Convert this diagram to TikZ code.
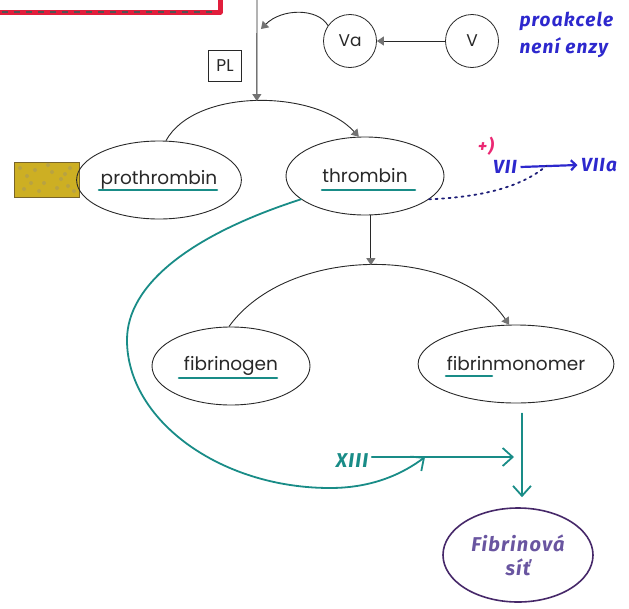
\documentclass[tikz,border=0pt]{standalone}
\usepackage{fontspec}
\setmainfont{Poppins}
\newfontfamily\handfont[LetterSpace=6]{Fira Sans}
\usetikzlibrary{arrows.meta,shapes.geometric,calc}
\definecolor{inkgrey}{RGB}{40,40,40}
\definecolor{tipgrey}{RGB}{115,115,115}
\definecolor{markteal}{RGB}{25,140,135}
\definecolor{penblue}{RGB}{45,40,205}
\definecolor{dotnavy}{RGB}{30,30,120}
\definecolor{penpink}{RGB}{235,40,115}
\definecolor{penpurple}{RGB}{70,40,105}
\definecolor{inkpurple}{RGB}{105,85,160}
\definecolor{ochre}{RGB}{205,175,35}
\definecolor{ochredark}{RGB}{120,100,40}
\definecolor{redmark}{RGB}{225,30,60}
\begin{document}
\begin{tikzpicture}[x=1pt,y=-1pt,
  state/.style={ellipse, draw=inkgrey, line width=0.9pt, minimum width=158pt,
    minimum height=78pt, inner sep=0pt, font=\fontsize{18.5}{20}\selectfont, text=inkgrey},
  factor/.style={circle, draw=inkgrey, line width=0.8pt, minimum size=53pt,
    inner sep=0pt, font=\fontsize{17}{19}\selectfont, text=inkgrey},
  link/.style={draw=inkgrey, line width=0.9pt},
  greytip/.style={-{Triangle[length=7pt,width=9pt,color=tipgrey]}},
  tealpen/.style={draw=markteal, line width=1.8pt, line cap=round},
  tealtip/.style={-{Straight Barb[length=10pt,width=18pt,line width=1.8pt]}},
  uline/.style={draw=markteal, line width=2.6pt, line cap=round},
  hand/.style={font=\handfont\bfseries\itshape\fontsize{19}{22}\selectfont},
]
\useasboundingbox (0,0) rectangle (629,608);

% red marker frame at the top left
\draw[redmark, line width=5pt, line join=round] (-5,12) -- (220,12) -- (220,-5);
\draw[inkgrey!80, line width=1.2pt, dash pattern=on 6pt off 6pt] (2,12) -- (216,12);

% factor V activation
\node[factor] (Va) at (350,41) {Va};
\node[factor] (V) at (472,41) {V};
\draw[link, greytip] (V) -- (Va);
\node[draw=inkgrey, line width=0.8pt, minimum width=33pt, minimum height=31pt,
  inner sep=0pt, font=\fontsize{17}{19}\selectfont, text=inkgrey] (PL) at (225,66) {PL};

\node[hand, text=penblue, anchor=west] (proak) at (516,21) {proakcele};
\node[hand, text=penblue, anchor=west] (neni) at (516,48) {není enzy};

% prothrombin -> thrombin
\node[fill=ochre, draw=ochredark, line width=0.8pt, minimum width=65pt,
  minimum height=35pt, inner sep=0pt] (pad) at (46.5,179.5) {};
\foreach \px/\py in {20/168,27/176,35/170,44/183,52/172,61/179,70/168,24/189,
  39/191,57/188,68/186,48/165,31/183,65/174,74/191}
  \fill[ochredark!70, opacity=0.45] (\px,\py) circle[radius=2pt];
\node[state] (prothrombin) at (159,180) {prothrombin};
\node[state] (thrombin) at (365,176) {thrombin};
\draw[uline] ($(prothrombin.center)+(-60,10)$) -- ++(118,0);
\draw[uline] ($(thrombin.center)+(-43,14)$) -- ++(93,0);

\draw[link, greytip] (prothrombin.80) .. controls (195,88) and (315,89)
  .. coordinate[pos=0.5] (arcTop) (thrombin.99);
\coordinate (feed) at (257,0);
\draw[link, greytip] (feed) -- (arcTop);
\coordinate (join) at (261,29);
\draw[link, greytip] (Va.145) .. controls (318,8) and (282,8) .. (join);

% factor VII activation
\node[hand, text=penblue] (VII) at (505,167) {VII};
\node[hand, text=penblue] (VIIa) at (599,165) {VIIa};
\draw[penblue, line width=2.2pt, -{Straight Barb[length=5pt,width=10pt,line width=2.2pt]}]
  (VII.east) -- coordinate[pos=0.45] (vdot) (VIIa.west);
\node[hand, text=penpink, font=\handfont\bfseries\itshape\fontsize{18}{20}\selectfont]
  (plus) at (486,146) {+)};
\draw[dotnavy, line width=1.8pt, dash pattern=on 2pt off 4.5pt, line cap=round]
  (thrombin.-20) .. controls (480,197) and (520,188) .. (vdot);

% thrombin -> fibrinogen / fibrinmonomer
\node[state] (fibrinogen) at (231,366) {fibrinogen};
\node[state] (fibrinmonomer) at (516,364) {fibrinmonomer};
\draw[uline] ($(fibrinogen.center)+(-52,12)$) -- ++(98,0);
\draw[uline] ($(fibrinmonomer.center)+(-70,12)$) -- ++(46,0);

\draw[link, greytip] (fibrinogen.93) .. controls (288,245) and (455,245)
  .. coordinate[pos=0.5] (lowTop) (fibrinmonomer.100);
\draw[link, greytip] (thrombin.south -| lowTop) -- (lowTop);

% factor XIII and the fibrin network
\node[hand, text=markteal, font=\handfont\bfseries\itshape\fontsize{20}{22}\selectfont]
  (XIII) at (352,461) {XIII};
\node[ellipse, draw=penpurple, line width=1.6pt, minimum width=150pt,
  minimum height=94pt, inner sep=0pt, hand, text=inkpurple, align=center,
  font=\handfont\bfseries\itshape\fontsize{20}{24}\selectfont]
  (net) at (518,555) {Fibrinová\\síť};
\coordinate (merge) at (522,457);
\draw[tealpen, tealtip, shorten <=10pt, shorten >=10pt]
  (fibrinmonomer.south -| merge) -- (net.north -| merge);
\draw[tealpen, tealtip, shorten >=8pt] (XIII.east |- merge) -- (merge);
\coordinate (xjoin) at (425,457);
\draw[tealpen, tealtip] (thrombin.200) .. controls (190,235) and (127,285) .. (127,340)
  .. controls (127,420) and (220,488) .. (330,488)
  .. controls (375,488) and (405,472) .. (xjoin);
\end{tikzpicture}
\end{document}
